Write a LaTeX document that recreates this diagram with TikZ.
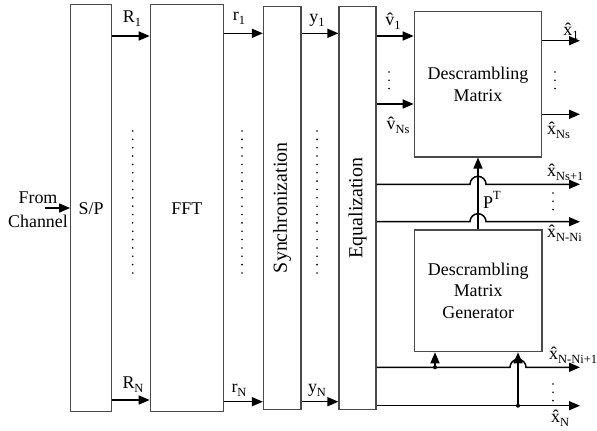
\documentclass[tikz,border=0pt]{standalone}
\usepackage{fontspec}
\setmainfont{Liberation Serif}
\usetikzlibrary{arrows.meta,calc}
\definecolor{edge}{HTML}{4A4A4A}
\newcommand\lsub[1]{\raisebox{-0.22em}{\fontsize{12.5}{12}\selectfont #1}}
\newcommand\lsup[1]{\raisebox{0.5em}{\fontsize{12.5}{12}\selectfont #1}}
\tikzset{
  >={Triangle[length=11bp,width=9bp]},
  blk/.style={draw=edge,line width=1.2bp,inner sep=0pt,align=center,font=\fontsize{18}{22}\selectfont},
  vblk/.style={blk,font=\fontsize{20}{22}\selectfont},
  arr/.style={->,line width=1.5bp},
  wire/.style={line width=1.5bp},
  lab/.style={font=\fontsize{18}{24}\selectfont,inner sep=0pt},
  jdot/.style={circle,fill,inner sep=0pt,minimum size=4bp},
}

\begin{document}
\begin{tikzpicture}[x=1bp,y=-1bp]
\useasboundingbox (0,0) rectangle (597,430);
\node[blk,minimum width=41bp,minimum height=407bp] (sp) at (91.2,208.3) {S/P};
\node[blk,minimum width=73bp,minimum height=407bp] (fft) at (186.8,208.3) {FFT};
\node[vblk,minimum width=37.5bp,minimum height=403bp] (sync) at (282.2,207.7) {\rotatebox{90}{Synchronization}};
\node[vblk,minimum width=37bp,minimum height=402.6bp] (eq) at (357.5,208) {\rotatebox{90}{Equalization}};
\node[blk,minimum width=127.4bp,minimum height=145.3bp] (dm) at (478,84.3) {Descrambling\\Matrix};
\node[blk,minimum width=127.7bp,minimum height=121.7bp] (gen) at (478.2,290.8) {Descrambling\\Matrix\\Generator};
\coordinate (ch) at (45,208);
\coordinate (o1) at (580,40.7);
\coordinate (o2) at (580,114.3);
\coordinate (o3) at (580,184.3);
\coordinate (o4) at (580,221.7);
\coordinate (o5) at (580,367.3);
\coordinate (o6) at (580,405.7);
\coordinate (j1) at (435,367.3);
\coordinate (j2) at (518,405.7);
\draw[arr] (ch) -- (ch -| sp.west);
\foreach \u/\v/\a/\b in {sp/fft/36/400,fft/sync/33.3/401.7,sync/eq/33.3/401.7,eq/dm/36/104}{
  \draw[arr] (\u.east |- 0,\a) -- (\v.west |- 0,\a);
  \draw[arr] (\u.east |- 0,\b) -- (\v.west |- 0,\b);
}
\draw[arr] (dm.east |- o1) -- (o1);
\draw[arr] (dm.east |- o2) -- (o2);
\draw[arr] (eq.east |- o3) -- ($(dm.south |- o3)+(-8,0)$) arc[start angle=180,end angle=360,radius=8] -- (o3);
\draw[arr] (eq.east |- o4) -- ($(dm.south |- o4)+(-8,0)$) arc[start angle=180,end angle=360,radius=8] -- (o4);
\draw[arr] (gen.north -| dm.south) -- (dm.south);
\draw[arr] (eq.east |- o5) -- ($(j2 |- o5)+(-8,0)$) arc[start angle=180,end angle=360,radius=8] -- (o5);
\draw[arr] (eq.east |- o6) -- (o6);
\draw[arr] (j1) -- (j1 |- gen.south);
\draw[arr] (j2) -- (j2 |- gen.south);
\node[jdot] (d1) at (j1) {};
\node[jdot] (d2) at (j2) {};
\foreach \x in {132.7,242,317}
  \foreach \k in {0,...,17}
    \fill (\x,131+\k*8.35) circle[radius=0.9];
\foreach \x/\y in {389/72,555/72,553/193,553/384}
  \foreach \k in {0,1,2}
    \fill (\x,\y+\k*8.3) circle[radius=0.9];
\node[lab,align=center] (src) at (38,210) {From\\Channel};
\node[lab] (lR1) at (132,19) {R\lsub{1}};
\node[lab] (lRN) at (133,385) {R\lsub{N}};
\node[lab] (lr1) at (239,18) {r\lsub{1}};
\node[lab] (lrN) at (239,390) {r\lsub{N}};
\node[lab] (ly1) at (317,20) {y\lsub{1}};
\node[lab] (lyN) at (317,390) {y\lsub{N}};
\node[lab] (lv1) at (393,21) {\^{v}\lsub{1}};
\node[lab] (lvNs) at (398,125) {\^{v}\lsub{Ns}};
\node[lab] (lx1) at (571,31) {\^{x}\lsub{1}};
\node[lab,anchor=west] (lxNs) at (547,130) {\^{x}\lsub{Ns}};
\node[lab,anchor=west] (lxNs1) at (547,172) {\^{x}\lsub{Ns+1}};
\node[lab,anchor=west] (lxNNi) at (547,233) {\^{x}\lsub{N-Ni}};
\node[lab,anchor=west] (lxNNi1) at (549,355) {\^{x}\lsub{N-Ni+1}};
\node[lab,anchor=west] (lxN) at (551,418) {\^{x}\lsub{N}};
\node[lab] (lP) at (492,200) {P\lsup{T}};
\end{tikzpicture}
\end{document}
